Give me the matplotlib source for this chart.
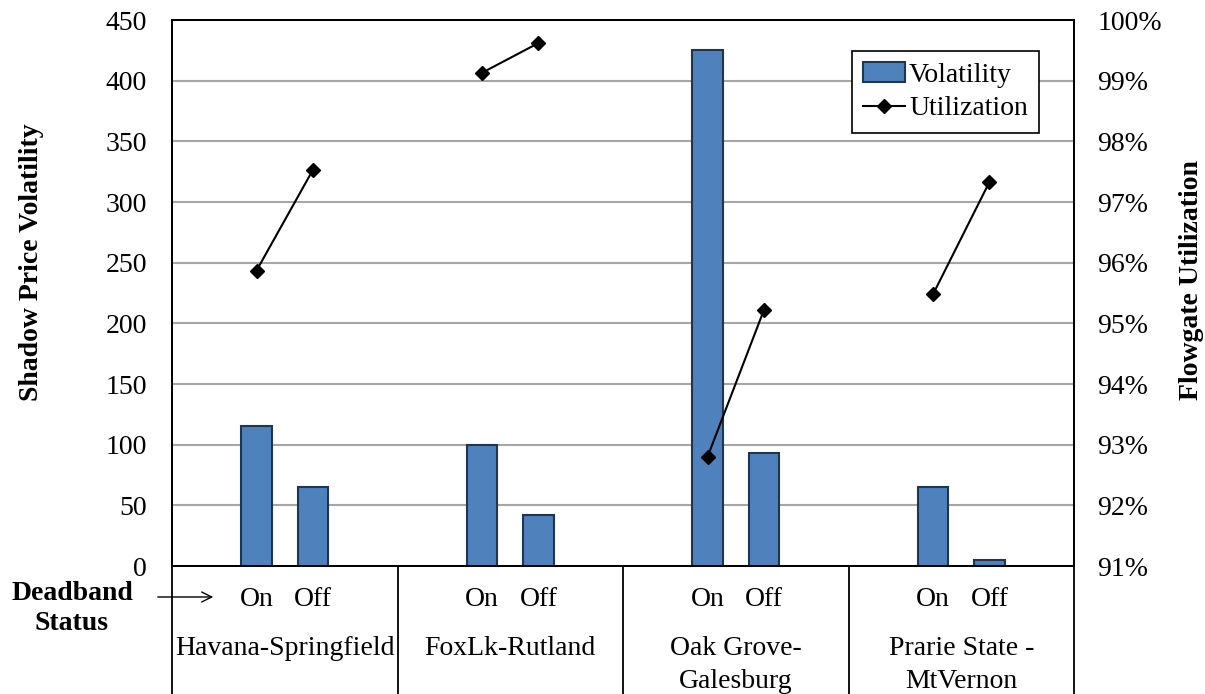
import numpy as np
import matplotlib
matplotlib.use('Agg')
import matplotlib.pyplot as plt

plt.rcParams['font.family'] = ['Liberation Serif', 'DejaVu Serif']

# data
groups = ['Havana-Springfield', 'FoxLk-Rutland', 'Oak Grove-\nGalesburg', 'Prarie State -\nMtVernon']
statuses = ['On', 'Off']
volatility_on = [115, 100, 425, 65]
volatility_off = [65, 42, 93, 5]
utilization_on = [95.87, 99.13, 92.80, 95.48]   # percent
utilization_off = [97.53, 99.62, 95.22, 97.33]

W, H = 1205, 694
FS = 20
fig = plt.figure(figsize=(W / 100, H / 100), dpi=100)
L, R, T, B = 172, 1074, 20, 566
ax = fig.add_axes([L / W, 1 - B / H, (R - L) / W, (B - T) / H])
ax2 = ax.twinx()

n = len(groups)
slots = 4  # each group: blank, On, Off, blank
x_on = np.arange(n) * slots + 1
x_off = np.arange(n) * slots + 2

bar_kw = dict(width=0.54, color='#4F81BD', edgecolor='#1F3550', linewidth=1.5, zorder=3)
ax.bar(x_on, volatility_on, **bar_kw)
ax.bar(x_off, volatility_off, label='Volatility', **bar_kw)

for i in range(n):
    ax2.plot([x_on[i], x_off[i]], [utilization_on[i], utilization_off[i]],
             color='black', lw=1.5, marker='D', ms=7,
             label='Utilization' if i == 0 else None)

ax.set_xlim(-0.5, n * slots - 0.5)
ax.set_ylim(0, 450)
ax.set_yticks(np.arange(0, 451, 50))
ax2.set_ylim(91, 100)
ax2.set_yticks(np.arange(91, 101, 1))
ax2.set_yticklabels(['%d%%' % v for v in range(91, 101)])

ax.yaxis.grid(True, color='#A6A6A6', lw=1.5, zorder=0)
ax.set_axisbelow(True)
ax.set_xticks([])
ax.tick_params(axis='y', length=0, labelsize=FS, pad=18)
ax2.tick_params(axis='y', length=0, labelsize=FS, pad=17)
for a in (ax, ax2):
    for s in a.spines.values():
        s.set_color('black')
        s.set_linewidth(1.3)
ax2.patch.set_visible(False)

# category table below the axis
xt = ax.get_xaxis_transform()
for k in range(n + 1):
    ax.plot([k * slots - 0.5] * 2, [0, -0.25], color='black', lw=1.3,
            transform=xt, clip_on=False)
for i in range(n):
    ax.text(x_on[i], -0.062, statuses[0], transform=xt, ha='center', va='center', fontsize=FS)
    ax.text(x_off[i], -0.062, statuses[1], transform=xt, ha='center', va='center', fontsize=FS)
    ax.text(i * slots + 1.5, -0.128, groups[i], transform=xt, ha='center', va='top',
            fontsize=FS, linespacing=1.45)

fig.text(72 / W, 1 - 594 / H, 'Deadband', ha='center', va='center', fontsize=FS, fontweight='bold')
fig.text(72 / W, 1 - 624 / H, 'Status', ha='center', va='center', fontsize=FS, fontweight='bold')
fig.add_artist(matplotlib.patches.FancyArrowPatch(
    (155 / W, 1 - 597 / H), (216 / W, 1 - 597 / H), transform=fig.transFigure,
    arrowstyle='->', mutation_scale=18, lw=1.0, color='black'))

fig.text(32 / W, 1 - 262 / H, 'Shadow Price Volatility', rotation=90, ha='center', va='center',
         fontsize=FS, fontweight='bold')
fig.text(1191 / W, 1 - 280 / H, 'Flowgate Utilization', rotation=90, ha='center', va='center',
         fontsize=FS, fontweight='bold')

h1, l1 = ax.get_legend_handles_labels()
h2, l2 = ax2.get_legend_handles_labels()
leg = ax2.legend(h1 + h2, l1 + l2, loc='upper left', bbox_to_anchor=(0.754, 0.943),
                 borderaxespad=0, fontsize=FS, fancybox=False, framealpha=1,
                 edgecolor='black', handlelength=1.5, handletextpad=0.15,
                 borderpad=0.4, labelspacing=0.3)
leg.get_frame().set_linewidth(1.2)

fig.savefig('out.png', dpi=100)
